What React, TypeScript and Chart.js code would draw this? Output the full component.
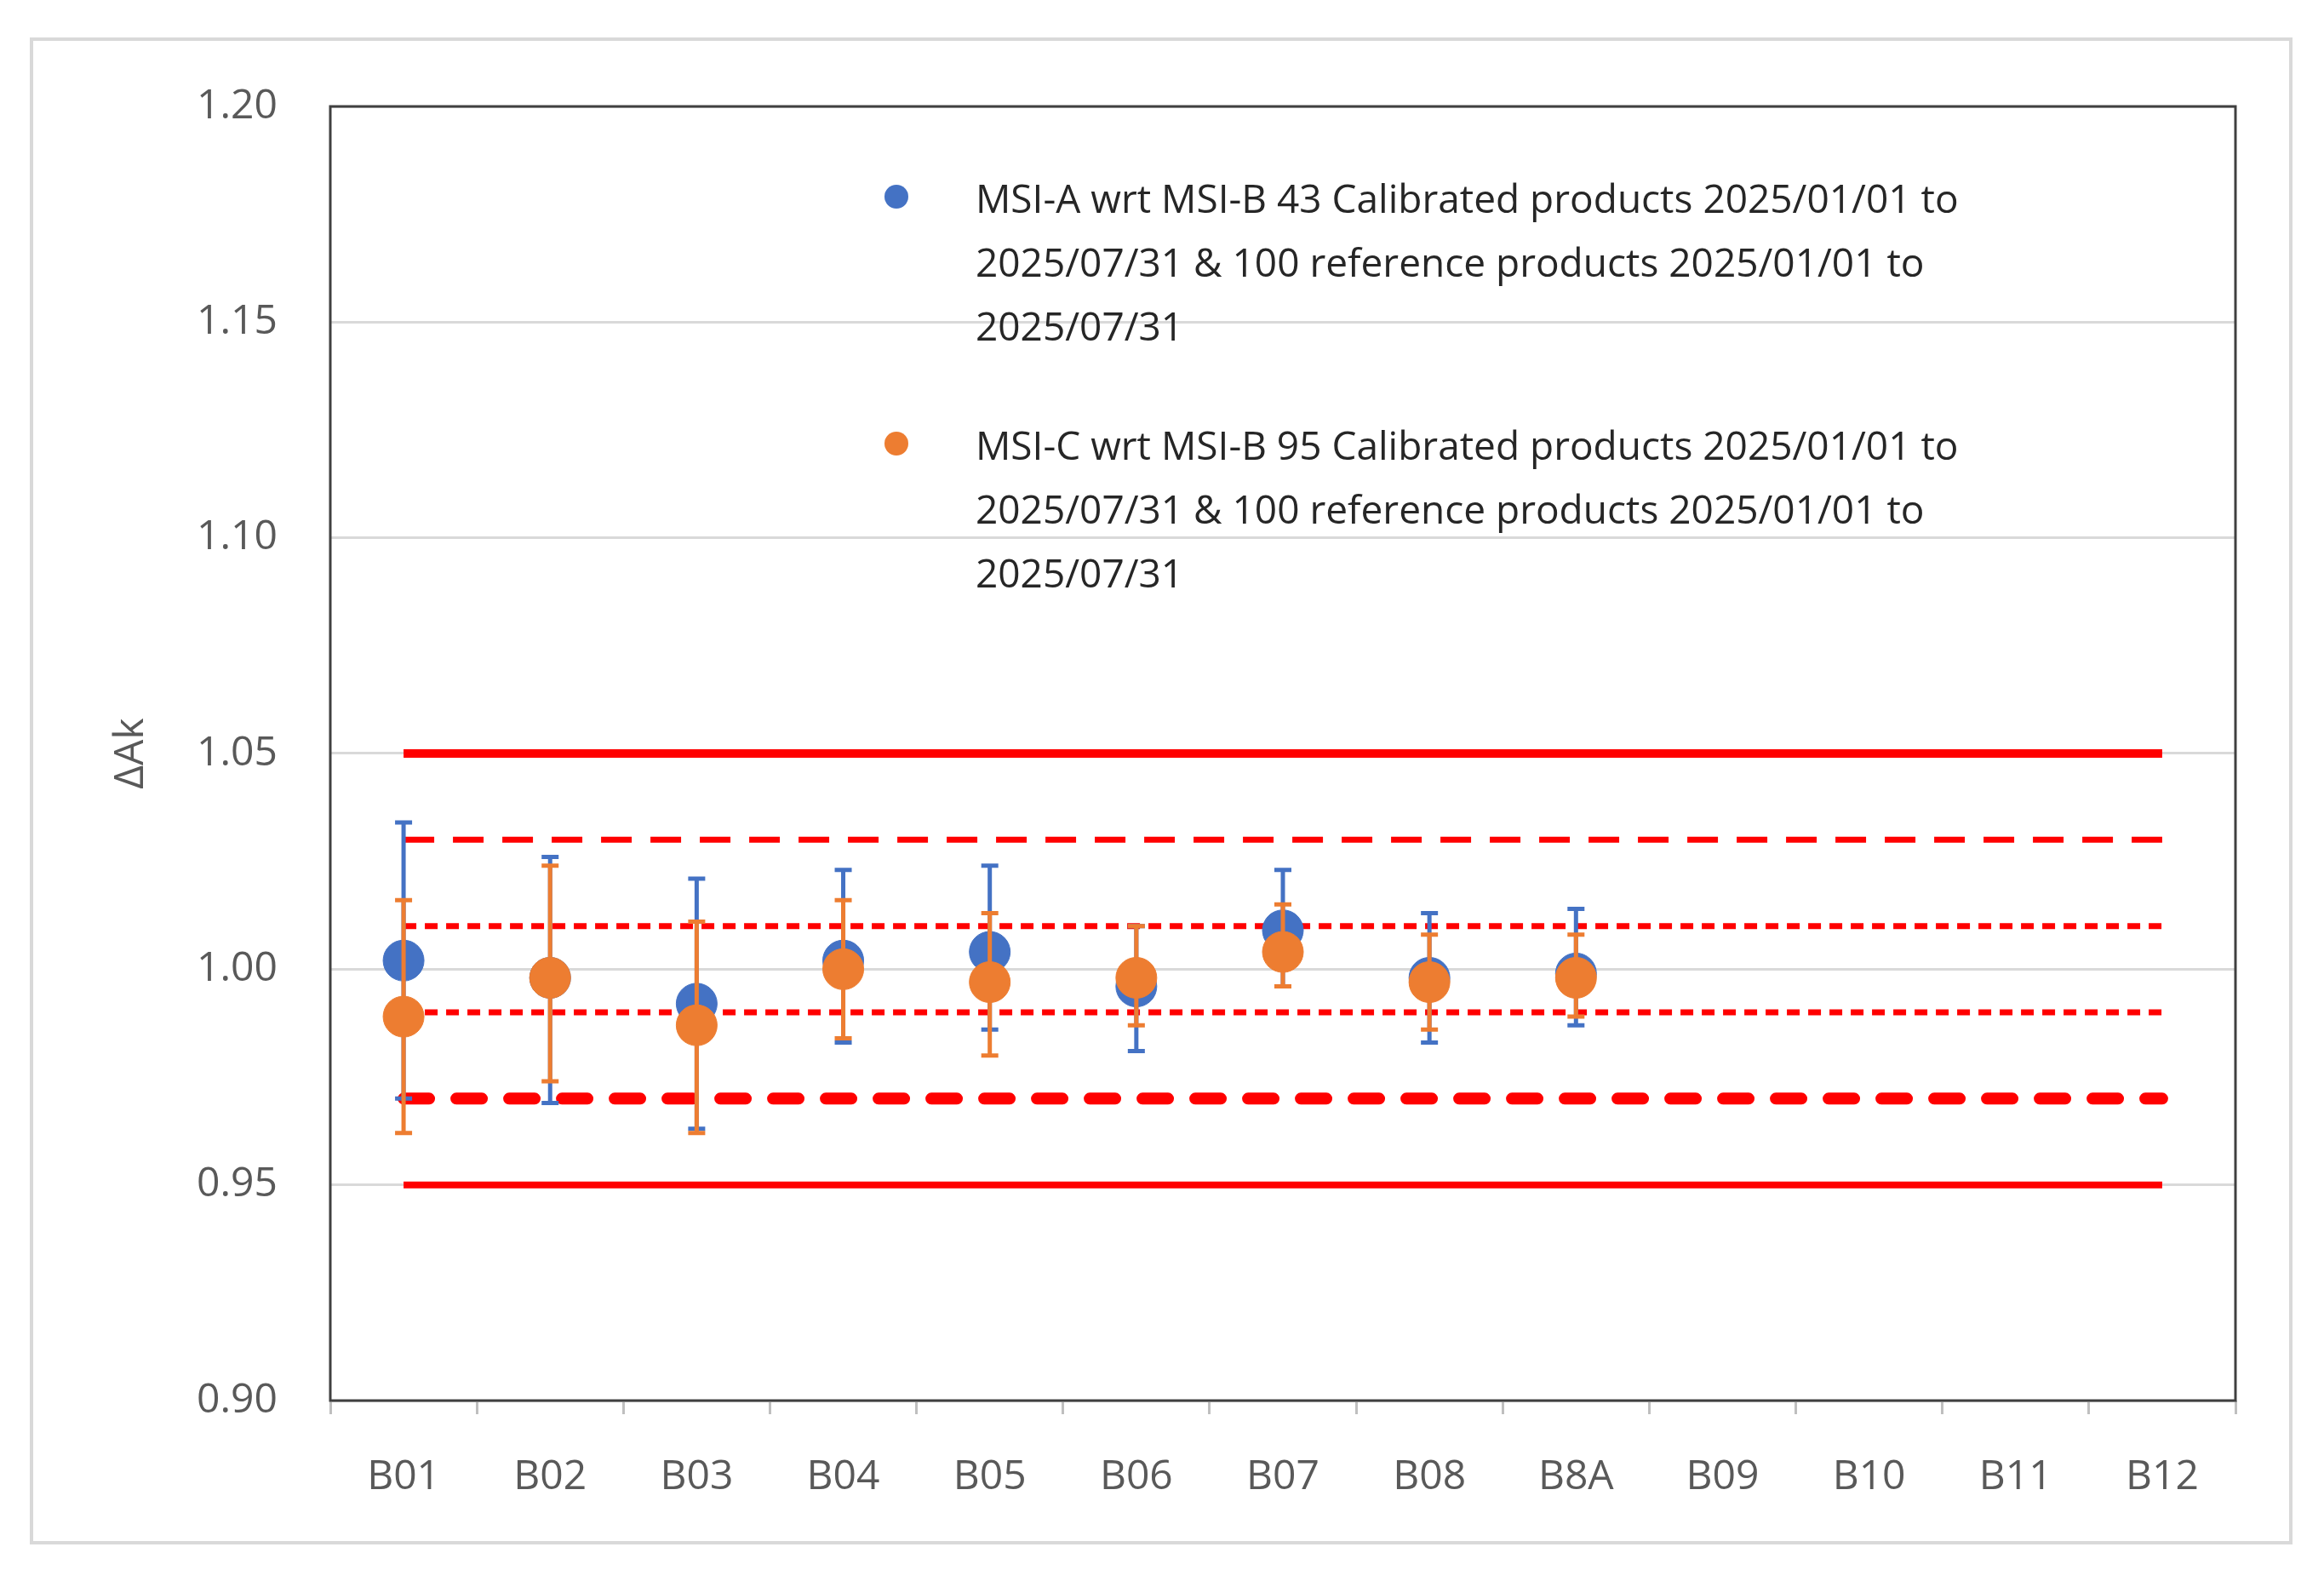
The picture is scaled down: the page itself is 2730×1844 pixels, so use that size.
import React, { useEffect, useRef } from "react";
import { Chart, registerables } from "chart.js";
Chart.register(...registerables);

const categories = ["B01","B02","B03","B04","B05","B06","B07","B08","B8A","B09","B10","B11","B12"];
const msiA = [1.002,0.998,0.992,1.002,1.004,0.996,1.009,0.998,0.999,null,null,null,null];
const msiAHigh = [1.034,1.026,1.021,1.023,1.024,1.010,1.023,1.013,1.014,null,null,null,null];
const msiALow = [0.970,0.969,0.963,0.983,0.986,0.981,0.996,0.983,0.987,null,null,null,null];
const msiC = [0.989,0.998,0.987,1.000,0.997,0.998,1.004,0.997,0.998,null,null,null,null];
const msiCHigh = [1.016,1.024,1.011,1.016,1.013,1.010,1.015,1.008,1.008,null,null,null,null];
const msiCLow = [0.962,0.974,0.962,0.984,0.980,0.987,0.996,0.986,0.989,null,null,null,null];
const refLevels = [1.05,1.03,1.01,0.99,0.97,0.95];
const yTicks = [0.90,0.95,1.00,1.05,1.10,1.15,1.20];
const legendA = ["MSI-A wrt MSI-B 43 Calibrated products 2025/01/01 to","2025/07/31 & 100 reference products 2025/01/01 to","2025/07/31"];
const legendC = ["MSI-C wrt MSI-B 95 Calibrated products 2025/01/01 to","2025/07/31 & 100 reference products 2025/01/01 to","2025/07/31"];

const BLUE = "#4472C4";
const ORANGE = "#ED7D31";
const refStyles = [
  { w: 10, dash: [] as number[], cap: "butt" },
  { w: 7, dash: [36, 22], cap: "butt" },
  { w: 7, dash: [15, 10], cap: "butt" },
  { w: 7, dash: [15, 10], cap: "butt" },
  { w: 14, dash: [30, 32], cap: "round" },
  { w: 8, dash: [] as number[], cap: "butt" },
];
const FONT = "'Open Sans', sans-serif";

export default function App() {
  const ref = useRef<HTMLCanvasElement>(null);
  useEffect(() => {
    const errs: any = { A: [msiAHigh, msiALow, BLUE], C: [msiCHigh, msiCLow, ORANGE] };
    const plugin = {
      id: "extras",
      beforeDatasetDraw(chart: any, args: any) {
        const ds = chart.data.datasets[args.index];
        if (!ds.errKey) return;
        const [hi, lo, col] = errs[ds.errKey];
        const ctx = chart.ctx, x = chart.scales.x, y = chart.scales.y;
        ctx.save();
        ctx.strokeStyle = col; ctx.lineWidth = 5; ctx.setLineDash([]);
        hi.forEach((h: any, i: number) => {
          if (h == null) return;
          const px = x.getPixelForValue(i);
          const yh = y.getPixelForValue(h), yl = y.getPixelForValue(lo[i]);
          ctx.beginPath();
          ctx.moveTo(px, yh); ctx.lineTo(px, yl);
          ctx.moveTo(px - 10, yh); ctx.lineTo(px + 10, yh);
          ctx.moveTo(px - 10, yl); ctx.lineTo(px + 10, yl);
          ctx.stroke();
        });
        ctx.restore();
      },
      afterDraw(chart: any) {
        const ctx = chart.ctx, a = chart.chartArea;
        ctx.save();
        ctx.strokeStyle = "#404040"; ctx.lineWidth = 3;
        ctx.strokeRect(a.left, a.top, a.right - a.left, a.bottom - a.top);
        ctx.font = `46px ${FONT}`; ctx.fillStyle = "#262626"; ctx.textBaseline = "middle";
        const dotX = a.left + 665, tx = a.left + 758;
        const draw = (lines: string[], y0: number, col: string) => {
          ctx.fillStyle = col; ctx.beginPath(); ctx.arc(dotX, y0 - 6, 14, 0, Math.PI * 2); ctx.fill();
          ctx.fillStyle = "#262626";
          lines.forEach((l, i) => ctx.fillText(l, tx, y0 + i * 75));
        };
        draw(legendA, a.top + 112, BLUE);
        draw(legendC, a.top + 402, ORANGE);
        ctx.restore();
      },
    };
    const refDatasets = refLevels.map((v, k) => ({
      type: "line" as const,
      data: categories.map(() => v),
      borderColor: "#FF0000",
      borderWidth: refStyles[k].w,
      borderDash: refStyles[k].dash,
      borderCapStyle: refStyles[k].cap,
      pointRadius: 0,
      fill: false,
      order: 10,
    }));
    const chart = new Chart(ref.current!, {
      type: "line",
      data: {
        labels: categories,
        datasets: [
          ...refDatasets,
          { data: msiA, showLine: false, pointRadius: 24, pointBackgroundColor: BLUE, pointBorderColor: BLUE, errKey: "A", order: 2 } as any,
          { data: msiC, showLine: false, pointRadius: 24, pointBackgroundColor: ORANGE, pointBorderColor: ORANGE, errKey: "C", order: 1 } as any,
        ],
      },
      options: {
        animation: false,
        responsive: false,
        layout: { padding: { left: 118, right: 96, top: 117, bottom: 60 } },
        plugins: { legend: { display: false }, tooltip: { enabled: false } },
        scales: {
          x: {
            offset: true,
            grid: { offset: true, drawOnChartArea: false, drawTicks: true, tickLength: 16, color: "#bfbfbf", lineWidth: 3 },
            border: { display: false },
            ticks: { color: "#595959", font: { family: FONT, size: 48 }, padding: 46 },
            afterFit: (s: any) => { s.height = 131; },
          },
          y: {
            min: 0.9, max: 1.2,
            afterBuildTicks: (s: any) => { s.ticks = yTicks.map((v) => ({ value: v })); },
            grid: { color: "#d9d9d9", lineWidth: 3, drawTicks: false },
            border: { display: false },
            ticks: { color: "#595959", font: { family: FONT, size: 48 }, padding: 62, callback: (v: any) => Number(v).toFixed(2) },
            title: { display: true, text: "ΔAk", color: "#595959", font: { family: FONT, size: 48 }, padding: 0 },
            afterFit: (s: any) => { s.width = 262; },
          },
        },
      },
      plugins: [plugin],
    } as any);
    return () => chart.destroy();
  }, []);
  return (
    <div style={{ position: "relative", width: 2714, height: 1828 }}>
      <div style={{ position: "absolute", left: 27, top: 36, width: 2650, height: 1762, border: "4px solid #d9d9d9" }} />
      <canvas ref={ref} width={2714} height={1828} style={{ position: "absolute", left: 0, top: 0, width: 2714, height: 1828 }} />
    </div>
  );
}
